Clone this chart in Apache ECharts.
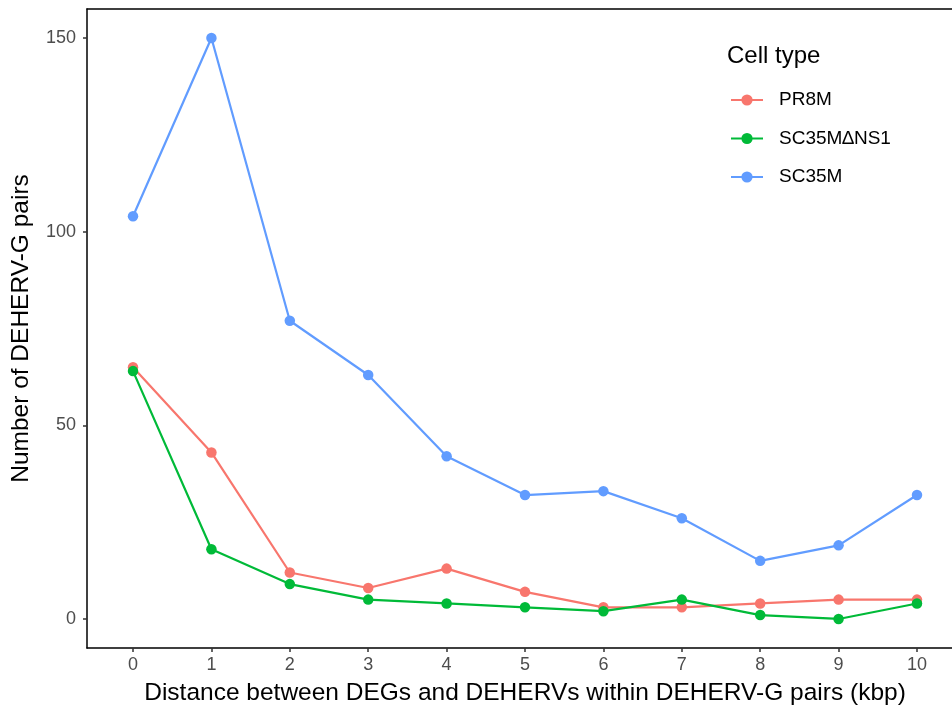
<!DOCTYPE html>
<html><head><meta charset="utf-8">
<script src="https://cdn.jsdelivr.net/npm/echarts@6/dist/echarts.min.js"></script>
<style>html,body{margin:0;padding:0;background:#fff}#c{width:952px;height:709px}</style>
</head><body><div id="c"></div>
<script>
const distances = [0,1,2,3,4,5,6,7,8,9,10];
const seriesNames = ['PR8M','SC35M\u2206NS1','SC35M'];
const pr8m = [65,43,12,8,13,7,3,3,4,5,5];
const sc35mDeltaNS1 = [64,18,9,5,4,3,2,5,1,0,4];
const sc35m = [104,150,77,63,42,32,33,26,15,19,32];
const yTicks = [0,50,100,150];
const colors = ['#F8766D','#00BA38','#619CFF'];
const values = [pr8m, sc35mDeltaNS1, sc35m];
const font = 'Liberation Sans, Arial, sans-serif';

const chart = echarts.init(document.getElementById('c'), null, {renderer:'canvas'});
chart.setOption({
  animation:false,
  backgroundColor:'#fff',
  grid:{left:87,width:876,top:9,bottom:61,containLabel:false,outerBoundsMode:'none'},
  xAxis:[{
    type:'value', min:-0.587, max:10.587,
    splitLine:{show:false},
    axisLine:{show:true,onZero:false,lineStyle:{color:'#000',width:1.5}},
    axisTick:{show:true,length:4,lineStyle:{color:'#333',width:1.5},customValues:distances},
    axisLabel:{color:'#4d4d4d',fontSize:18,fontFamily:font,margin:8,customValues:distances},
    name:'Distance between DEGs and DEHERVs within DEHERV-G pairs (kbp)',
    nameLocation:'middle',nameGap:33,
    nameTextStyle:{color:'#000',fontSize:24.5,fontFamily:font}
  },{
    type:'value', position:'top', min:-0.587, max:10.587,
    splitLine:{show:false},
    axisLine:{show:true,onZero:false,lineStyle:{color:'#000',width:1.5}},
    axisTick:{show:false},axisLabel:{show:false}
  }],
  yAxis:{
    type:'value', min:-7.5, max:157.5,
    splitLine:{show:false},
    axisLine:{show:true,onZero:false,lineStyle:{color:'#000',width:1.5}},
    axisTick:{show:true,length:4,lineStyle:{color:'#333',width:1.5},customValues:yTicks},
    axisLabel:{color:'#4d4d4d',fontSize:18,fontFamily:font,margin:11,customValues:yTicks},
    name:'Number of DEHERV-G pairs',
    nameLocation:'middle',nameGap:53,
    nameTextStyle:{color:'#000',fontSize:24.5,fontFamily:font}
  },
  legend:{
    orient:'vertical', left:730, top:90.5, padding:0,
    itemWidth:32, itemHeight:14, itemGap:19.5,
    textStyle:{color:'#000',fontSize:19,fontFamily:font,padding:[0,0,0,11]},
    data:seriesNames
  },
  graphic:[{type:'text',left:727,top:44,style:{text:'Cell type',fontSize:24,fontFamily:font,fill:'#000'}}],
  series: seriesNames.map((n,i)=>({
    name:n, type:'line',
    data: distances.map((d,j)=>[d, values[i][j]]),
    symbol:'circle', symbolSize:10.5,
    lineStyle:{color:colors[i],width:2.2},
    itemStyle:{color:colors[i]},
    z: i===1?3:2
  }))
});
</script></body></html>
